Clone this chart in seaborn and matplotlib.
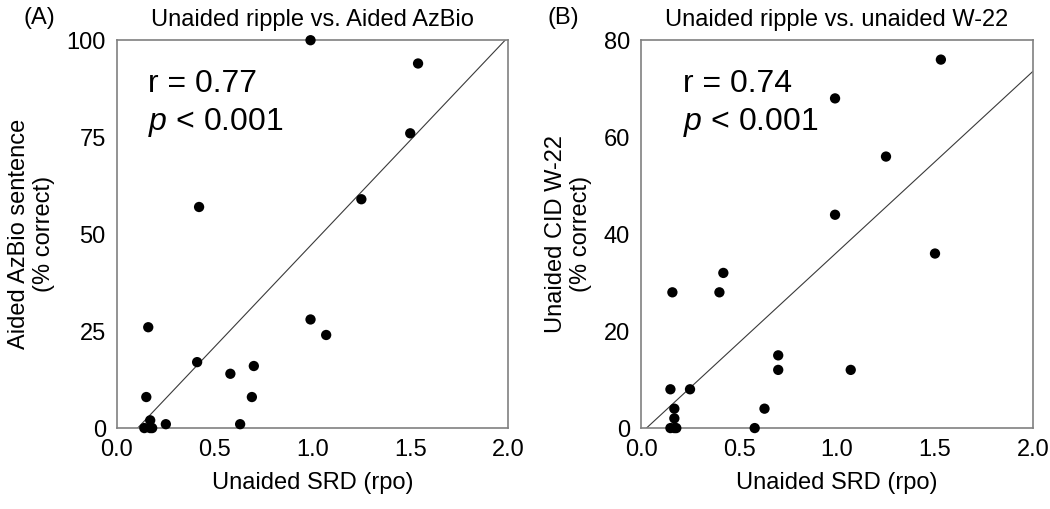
import numpy as np
import pandas as pd
import matplotlib
matplotlib.use("Agg")
import matplotlib.pyplot as plt
import seaborn as sns

# Panel A: unaided ripple (SRD) vs. aided AzBio sentence score
srd_a = [0.99, 1.54, 1.50, 1.25, 0.42, 0.99, 1.07, 0.16, 0.41, 0.58, 0.70,
         0.15, 0.69, 0.17, 0.25, 0.63, 0.14, 0.17, 0.18]
azbio = [100, 94, 76, 59, 57, 28, 24, 26, 17, 14, 16,
         8, 8, 2, 1, 1, 0, 0, 0]

# Panel B: unaided ripple (SRD) vs. unaided CID W-22 score
srd_b = [0.99, 1.53, 1.25, 0.99, 1.50, 0.42, 0.40, 0.16, 0.15, 0.25, 0.17,
         0.17, 0.15, 0.17, 0.18, 0.70, 0.70, 0.63, 0.58, 1.07]
w22 = [68, 76, 56, 44, 36, 32, 28, 28, 8, 8, 4,
       2, 0, 0, 0, 15, 12, 4, 0, 12]

x_ticks = [0.0, 0.5, 1.0, 1.5, 2.0]
y_ticks_a = [0, 25, 50, 75, 100]
y_ticks_b = [0, 20, 40, 60, 80]

sns.set_style("white")
plt.rcParams['font.family'] = ['Liberation Sans', 'DejaVu Sans']
plt.rcParams['mathtext.fontset'] = 'custom'
plt.rcParams['mathtext.it'] = 'Liberation Sans:italic'
plt.rcParams['mathtext.rm'] = 'Liberation Sans'
plt.rcParams['text.color'] = 'black'
plt.rcParams['axes.labelcolor'] = 'black'
plt.rcParams['xtick.labelcolor'] = 'black'
plt.rcParams['ytick.labelcolor'] = 'black'

df_a = pd.DataFrame({"srd": srd_a, "score": azbio})
df_b = pd.DataFrame({"srd": srd_b, "score": w22})

fig = plt.figure(figsize=(10.5, 5.09), dpi=100)
ax_a = fig.add_axes([0.1114, 0.159, 0.3724, 0.762])
ax_b = fig.add_axes([0.6105, 0.159, 0.3733, 0.762])

panels = [
    (ax_a, df_a, y_ticks_a, "Aided AzBio sentence\n(% correct)",
     "Unaided ripple vs. Aided AzBio", "(A)", "r = 0.77", 0.08),
    (ax_b, df_b, y_ticks_b, "Unaided CID W-22\n(% correct)",
     "Unaided ripple vs. unaided W-22", "(B)", "r = 0.74", 0.107),
]

for ax, df, yt, ylab, title, tag, rtxt, tx in panels:
    ax.set_xlim(0, 2)
    ax.set_ylim(0, yt[-1])
    sns.regplot(data=df, x="srd", y="score", ax=ax, scatter=False, ci=None,
                truncate=False, line_kws={"color": "#3a3a3a", "lw": 0.8})
    sns.scatterplot(data=df, x="srd", y="score", ax=ax, color="black",
                    s=55, edgecolor="none", clip_on=False, zorder=3)
    ax.set_xlim(0, 2)
    ax.set_ylim(0, yt[-1])
    ax.set_xticks(x_ticks)
    ax.set_xticklabels([f"{t:.1f}" for t in x_ticks])
    ax.set_yticks(yt)
    ax.tick_params(direction="in", length=4, width=1, color="#808080",
                   labelsize=17, pad=8, labelcolor="black")
    for sp in ax.spines.values():
        sp.set_color("#808080")
        sp.set_linewidth(1.2)
    ax.set_xlabel("Unaided SRD (rpo)", fontsize=17, labelpad=8, color="black")
    ax.set_ylabel(ylab, fontsize=17, labelpad=8, color="black")
    ax.set_title(title, fontsize=17, pad=10, color="black")
    pos = ax.get_position()
    fig.text(pos.x0 - 0.074, 0.965, tag, fontsize=17, ha="center", va="center")
    ax.text(tx, 0.925, rtxt, transform=ax.transAxes, fontsize=23,
            ha="left", va="top")
    ax.text(tx, 0.83, r"$\mathit{p}$ < 0.001", transform=ax.transAxes,
            fontsize=23, ha="left", va="top")

fig.savefig("out.png", dpi=100)
